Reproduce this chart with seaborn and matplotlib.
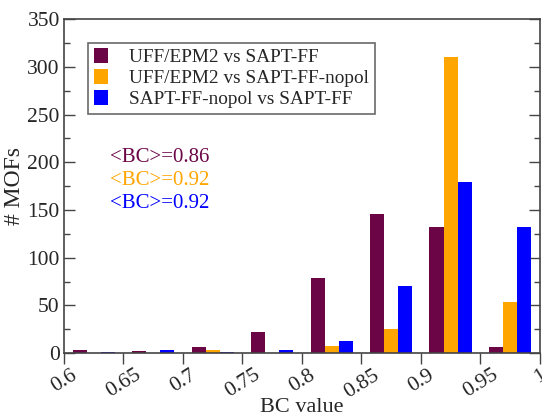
import matplotlib
matplotlib.use("Agg")
import matplotlib.pyplot as plt
import seaborn as sns
import pandas as pd
from matplotlib.ticker import MultipleLocator, FixedLocator
from matplotlib.patches import Patch

bin_centers = [0.625, 0.675, 0.725, 0.775, 0.825, 0.875, 0.925, 0.975]
series_names = ["UFF/EPM2 vs SAPT-FF", "UFF/EPM2 vs SAPT-FF-nopol", "SAPT-FF-nopol vs SAPT-FF"]
uff_vs_sapt = [3, 2, 6, 22, 79, 146, 132, 6]
uff_vs_nopol = [0, 0, 3, 0, 8, 25, 310, 54]
nopol_vs_sapt = [1, 3, 1, 3, 13, 70, 179, 132]
colors = ["#6b0546", "#ffa500", "#0000ff"]
mean_labels = ["<BC>=0.86", "<BC>=0.92", "<BC>=0.92"]
xtick_vals = [0.6, 0.65, 0.7, 0.75, 0.8, 0.85, 0.9, 0.95, 1.0]
xtick_labels = ["0.6", "0.65", "0.7", "0.75", "0.8", "0.85", "0.9", "0.95", "1"]

rows = []
for name, vals in zip(series_names, [uff_vs_sapt, uff_vs_nopol, nopol_vs_sapt]):
    for c, v in zip(bin_centers, vals):
        rows.append({"bc": c, "count": v, "series": name})
df = pd.DataFrame(rows)

sns.set_style("white")
plt.rcParams["font.family"] = ["Liberation Serif", "DejaVu Serif"]

fig = plt.figure(figsize=(5.42, 4.16), dpi=100)
ax = fig.add_axes([0.118, 0.151, 0.878, 0.803])

sns.barplot(data=df, x="bc", y="count", hue="series", hue_order=series_names,
            palette=colors, native_scale=True, width=0.71, linewidth=0,
            saturation=1, ax=ax, legend=False)

ax.set_xlim(0.6, 1.0)
ax.set_ylim(0, 350)
ax.xaxis.set_major_locator(FixedLocator(xtick_vals))
ax.set_xticklabels(xtick_labels, rotation=32, ha="center", fontsize=15.5)
ax.yaxis.set_major_locator(MultipleLocator(50))
ax.yaxis.set_minor_locator(MultipleLocator(25))
ax.tick_params(axis="y", which="both", direction="in", left=True, right=True,
               labelsize=15.5, color="#444444", pad=3)
ax.tick_params(axis="y", which="major", length=8, width=1)
ax.tick_params(axis="y", which="minor", length=4, width=1)
ax.tick_params(axis="x", which="major", direction="out", bottom=True, top=False,
               length=8, width=1, color="#444444", pad=1)
for s in ax.spines.values():
    s.set_color("#444444")
    s.set_linewidth(1.2)

ax.set_xlabel("BC value", fontsize=16, labelpad=-3)
ax.set_ylabel("# MOFs", fontsize=17, labelpad=2)

handles = [Patch(facecolor=c, edgecolor="none") for c in colors]
leg = ax.legend(handles, series_names, loc="upper left", bbox_to_anchor=(0.05, 0.93),
                fontsize=13.9, frameon=True, fancybox=False, edgecolor="#444444",
                handlelength=0.75, handleheight=0.8, handletextpad=1.1,
                labelspacing=0.15, borderpad=0.3, borderaxespad=0)
leg.get_frame().set_linewidth(1.2)

for i, (txt, c) in enumerate(zip(mean_labels, colors)):
    ax.text(0.639, 205 - i * 24, txt, color=c, fontsize=15, va="center", ha="left",
            transform=ax.transData)

fig.savefig("out.png", dpi=100)
